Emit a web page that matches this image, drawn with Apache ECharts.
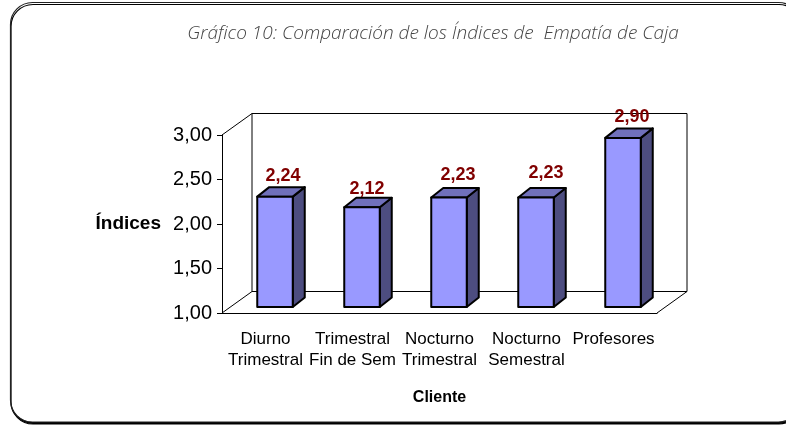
<!DOCTYPE html>
<html>
<head>
<meta charset="utf-8">
<title>Gráfico 10</title>
<script src="https://cdn.jsdelivr.net/npm/echarts@6/dist/echarts.min.js"></script>
<style>
  html, body { margin: 0; padding: 0; background: #fff; }
  #chart { width: 786px; height: 425px; }
</style>
</head>
<body>
<div id="chart"></div>
<script>
// datos del grafico
const categories = ['Diurno\nTrimestral', 'Trimestral\nFin de Sem', 'Nocturno\nTrimestral', 'Nocturno\nSemestral', 'Profesores']
const indices = [2.24, 2.12, 2.23, 2.23, 2.90]
const yTicks = { min: 1, max: 3, interval: 0.5 }

const font = '"Liberation Sans", Arial, sans-serif'
const coma = v => v.toFixed(2).replace('.', ',')

// profundidad de la caja y de las barras (px)
const wallDx = 30, wallDy = -21.5
const barDx = 12, barDy = -9.5
const barShiftX = 9.5, barShiftY = -6
const barWidth = 35.5
// desplazamiento de cada etiqueta respecto a su barra
const labelDx = [8, 5, 9, 10, 9]
const labelDy = [-21, -18, -22, -24, -21]

const myChart = echarts.init(document.getElementById('chart'))

const wallItem = (params, api) => {
  const lb = api.coord([0, yTicks.min])
  const lt = api.coord([0, yTicks.max])
  const rb = api.coord([categories.length - 1, yTicks.min])
  const w = api.size([1, 0])[0]
  const x0 = lb[0] - w / 2
  const x1 = rb[0] + w / 2
  const segs = [
    [x0, lt[1], x0 + wallDx, lt[1] + wallDy],
    [x0 + wallDx, lt[1] + wallDy, x1 + wallDx, lt[1] + wallDy],
    [x0 + wallDx, lt[1] + wallDy, x0 + wallDx, lb[1] + wallDy],
    [x1 + wallDx, lt[1] + wallDy, x1 + wallDx, lb[1] + wallDy],
    [x0 + wallDx, lb[1] + wallDy, x1 + wallDx, lb[1] + wallDy],
    [x0, lb[1], x0 + wallDx, lb[1] + wallDy],
    [x1, lb[1], x1 + wallDx, lb[1] + wallDy]
  ]
  return {
    type: 'group',
    children: segs.map(s => ({
      type: 'line',
      shape: { x1: s[0], y1: s[1], x2: s[2], y2: s[3] },
      style: { stroke: '#000', lineWidth: 1 }
    }))
  }
}

const barItem = (params, api) => {
  const i = api.value(0)
  const top = api.coord([i, api.value(1)])
  const base = api.coord([i, yTicks.min])
  const x0 = top[0] + barShiftX - barWidth / 2
  const x1 = x0 + barWidth
  const yt = top[1] + barShiftY
  const yb = base[1] + barShiftY
  const edge = { stroke: '#000', lineWidth: 2, lineJoin: 'round' }
  return {
    type: 'group',
    children: [
      {
        type: 'polygon',
        shape: { points: [[x1, yt], [x1 + barDx, yt + barDy], [x1 + barDx, yb + barDy], [x1, yb]] },
        style: { fill: '#4d4d80', ...edge }
      },
      {
        type: 'polygon',
        shape: { points: [[x0, yt], [x0 + barDx, yt + barDy], [x1 + barDx, yt + barDy], [x1, yt]] },
        style: { fill: '#7070bb', ...edge }
      },
      {
        type: 'rect',
        shape: { x: x0, y: yt, width: barWidth, height: yb - yt },
        style: { fill: '#9999ff', ...edge }
      },
      {
        type: 'text',
        style: {
          x: top[0] + barShiftX + labelDx[i],
          y: yt + labelDy[i],
          text: coma(api.value(1)),
          fill: '#800000',
          font: 'bold 18px ' + font,
          textAlign: 'center',
          textVerticalAlign: 'middle'
        }
      }
    ]
  }
}

myChart.setOption({
  animation: false,
  backgroundColor: '#fff',
  title: {
    text: 'Gráfico 10: Comparación de los Índices de  Empatía de Caja',
    left: 428,
    top: 19,
    textAlign: 'center',
    textStyle: { fontFamily: '"Open Sans", sans-serif', fontStyle: 'italic', fontWeight: 300, fontSize: 19, color: '#444' }
  },
  graphic: [
    {
      type: 'rect',
      z: -1,
      shape: { x: 10.5, y: 2.5, width: 790, height: 419.5, r: 22 },
      style: { fill: '#fff', stroke: '#222', lineWidth: 1.2, shadowColor: '#000', shadowBlur: 0, shadowOffsetX: 0.5, shadowOffsetY: 2 }
    }
  ],
  grid: { left: 222, right: 129, top: 135, bottom: 112 },
  xAxis: {
    type: 'category',
    data: categories,
    name: 'Cliente',
    nameLocation: 'middle',
    nameGap: 77,
    nameTextStyle: { fontFamily: font, fontWeight: 'bold', fontSize: 16, color: '#000' },
    axisLine: { lineStyle: { color: '#000' } },
    axisTick: { alignWithLabel: false, length: 5, lineStyle: { color: '#000' } },
    axisLabel: { interval: 0, fontFamily: font, fontSize: 17, color: '#000', lineHeight: 21, margin: 16 }
  },
  yAxis: {
    type: 'value',
    min: yTicks.min,
    max: yTicks.max,
    interval: yTicks.interval,
    name: 'Índices',
    nameLocation: 'middle',
    nameRotate: 0,
    nameGap: 61,
    nameTextStyle: { fontFamily: font, fontWeight: 'bold', fontSize: 19, color: '#000' },
    splitLine: { show: false },
    axisLine: { show: true, lineStyle: { color: '#000' } },
    axisTick: { show: true, length: 5, lineStyle: { color: '#000' } },
    axisLabel: { fontFamily: font, fontSize: 20, color: '#000', margin: 10, formatter: coma }
  },
  series: [
    {
      type: 'custom',
      silent: true,
      clip: false,
      z: 1,
      renderItem: wallItem,
      data: [[0, yTicks.min]]
    },
    {
      type: 'custom',
      clip: false,
      z: 2,
      renderItem: barItem,
      encode: { x: 0, y: 1 },
      data: indices.map((v, i) => [i, v])
    }
  ]
})
</script>
</body>
</html>
